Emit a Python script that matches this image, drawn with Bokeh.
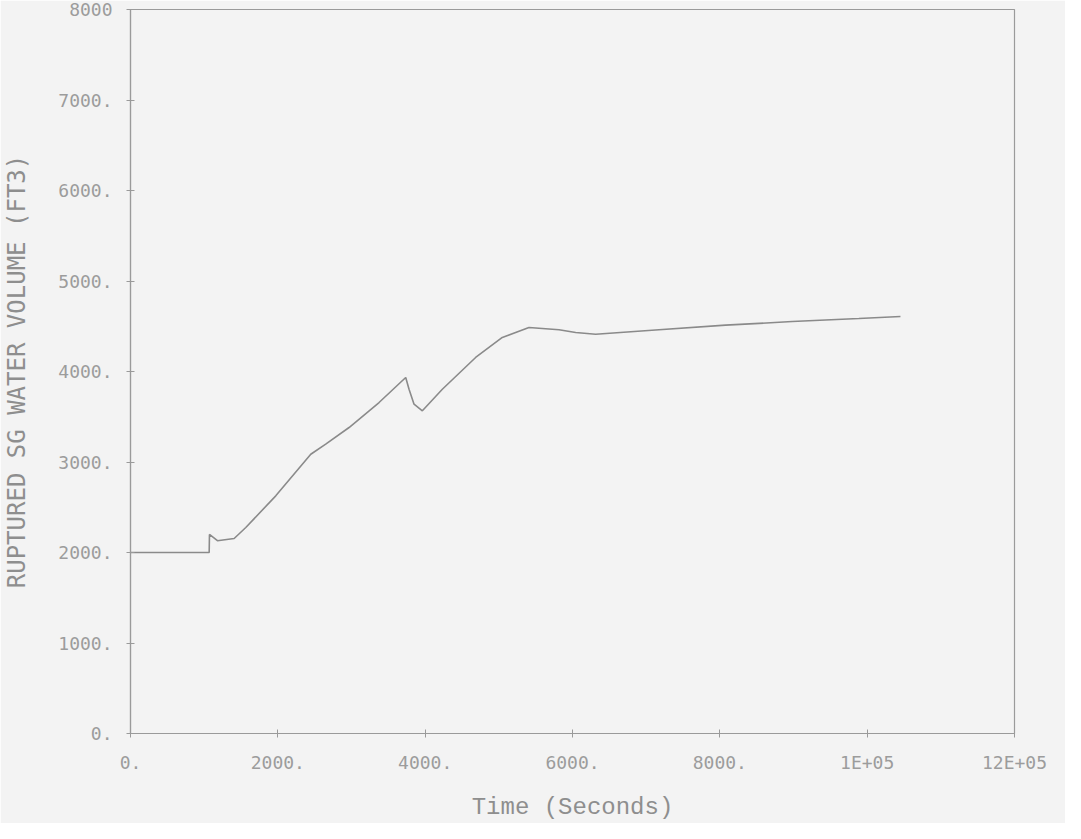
from bokeh.plotting import figure
from bokeh.models import FixedTicker, Range1d
from bokeh.embed import file_html
from bokeh.resources import INLINE

# Data
time_s = [0, 1068, 1072, 1180, 1407, 1565, 1972, 2447, 2650, 2967, 3374, 3736,
          3781, 3849, 3962, 4233, 4685, 5047, 5409, 5817, 6043, 6314, 7174,
          8078, 8982, 9887, 10452]
volume_ft3 = [2000, 2000, 2200, 2130, 2155, 2276, 2626, 3086, 3197, 3381, 3657, 3934,
              3804, 3639, 3566, 3804, 4155, 4376, 4486, 4461, 4431, 4412, 4461,
              4512, 4552, 4586, 4608]

x_ticks = [0, 2000, 4000, 6000, 8000, 10000, 12000]
x_tick_labels = ["0.", "2000.", "4000.", "6000.", "8000.", "1E+05", "12E+05"]
y_ticks = [0, 1000, 2000, 3000, 4000, 5000, 6000, 7000, 8000]
y_tick_labels = ["0.", "1000.", "2000.", "3000.", "4000.", "5000.", "6000.", "7000.", "8000"]

BG = "#f3f3f3"
AX = "#9a9a9a"
TXT = "#9c9c9c"

p = figure(width=1065, height=823, output_backend="svg", toolbar_location=None,
           x_range=Range1d(0, 12000), y_range=Range1d(0, 8000),
           background_fill_color=BG, border_fill_color=BG,
           min_border_left=130, min_border_right=51, min_border_top=9,
           min_border_bottom=90)

p.line(time_s, volume_ft3, line_color="#8a8a8a", line_width=1.6)

p.xgrid.visible = False
p.ygrid.visible = False
p.outline_line_color = AX
p.outline_line_width = 1.2

for ax in (p.xaxis[0], p.yaxis[0]):
    ax.axis_line_color = AX
    ax.axis_line_width = 1.2
    ax.major_tick_line_color = AX
    ax.major_tick_in = 4
    ax.major_tick_out = 4
    ax.minor_tick_line_color = None
    ax.major_label_text_font = "DejaVu Sans Mono"
    ax.major_label_text_font_size = "18px"
    ax.major_label_text_color = TXT
    ax.major_label_standoff = 14
    ax.axis_label_text_color = "#8e8e8e"
    ax.axis_label_text_font_style = "normal"
    ax.axis_label_text_line_height = 1.0

p.xaxis.major_label_text_line_height = 1.0

p.xaxis.ticker = FixedTicker(ticks=x_ticks)
p.xaxis.major_label_overrides = {t: l for t, l in zip(x_ticks, x_tick_labels)}
p.yaxis.ticker = FixedTicker(ticks=y_ticks)
p.yaxis.major_label_overrides = {t: l for t, l in zip(y_ticks, y_tick_labels)}

p.xaxis.axis_label = "Time (Seconds)"
p.xaxis.axis_label_text_font = "Liberation Mono"
p.xaxis.axis_label_text_font_size = "24px"
p.xaxis.axis_label_standoff = 18

p.yaxis.axis_label = "RUPTURED SG WATER VOLUME (FT3)"
p.yaxis.axis_label_text_font = "DejaVu Sans Mono"
p.yaxis.axis_label_text_font_size = "24px"
p.yaxis.axis_label_standoff = 24

open("out.html", "w").write(file_html(p, INLINE))
